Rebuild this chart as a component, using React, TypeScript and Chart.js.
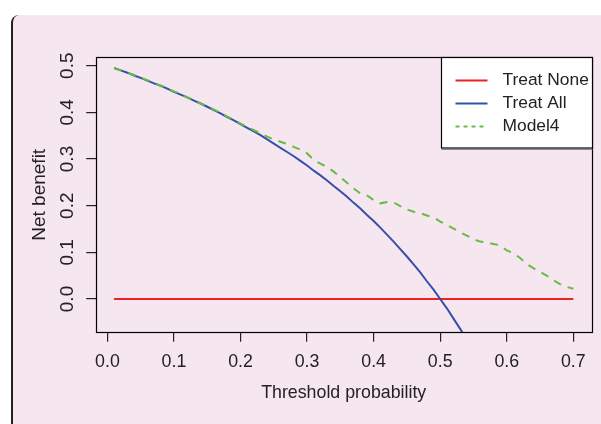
import { useEffect, useRef } from 'react';
import { Chart, registerables } from 'chart.js';

Chart.register(...registerables);

const thresholds = [
  0.01, 0.02, 0.03, 0.04, 0.05, 0.06, 0.07, 0.08, 0.09, 0.10,
  0.11, 0.12, 0.13, 0.14, 0.15, 0.16, 0.17, 0.18, 0.19, 0.20,
  0.21, 0.22, 0.23, 0.24, 0.25, 0.26, 0.27, 0.28, 0.29, 0.30,
  0.31, 0.32, 0.33, 0.34, 0.35, 0.36, 0.37, 0.38, 0.39, 0.40,
  0.41, 0.42, 0.43, 0.44, 0.45, 0.46, 0.47, 0.48, 0.49, 0.50,
  0.51, 0.52, 0.53, 0.54, 0.55, 0.56, 0.57, 0.58, 0.59, 0.60,
  0.61, 0.62, 0.63, 0.64, 0.65, 0.66, 0.67, 0.68, 0.69, 0.70,
];

const treatNone = [
  0, 0, 0, 0, 0, 0, 0, 0, 0, 0,
  0, 0, 0, 0, 0, 0, 0, 0, 0, 0,
  0, 0, 0, 0, 0, 0, 0, 0, 0, 0,
  0, 0, 0, 0, 0, 0, 0, 0, 0, 0,
  0, 0, 0, 0, 0, 0, 0, 0, 0, 0,
  0, 0, 0, 0, 0, 0, 0, 0, 0, 0,
  0, 0, 0, 0, 0, 0, 0, 0, 0, 0,
];

const treatAll = [
  0.495, 0.490, 0.485, 0.479, 0.474, 0.468, 0.462, 0.457, 0.451, 0.444,
  0.438, 0.432, 0.425, 0.419, 0.412, 0.405, 0.398, 0.390, 0.383, 0.375,
  0.367, 0.359, 0.351, 0.342, 0.333, 0.324, 0.315, 0.306, 0.296, 0.286,
  0.275, 0.265, 0.254, 0.242, 0.231, 0.219, 0.206, 0.194, 0.180, 0.167,
  0.153, 0.138, 0.123, 0.107, 0.091, 0.074, 0.057, 0.038, 0.020, 0.000,
  -0.020, -0.042, -0.064, -0.087,
];

const model4 = [
  0.495, 0.490, 0.485, 0.480, 0.474, 0.469, 0.463, 0.457, 0.451, 0.445,
  0.439, 0.432, 0.426, 0.419, 0.413, 0.406, 0.399, 0.391, 0.384, 0.376,
  0.369, 0.362, 0.355, 0.348, 0.342, 0.337, 0.332, 0.326, 0.320, 0.312,
  0.298, 0.290, 0.283, 0.273, 0.261, 0.249, 0.237, 0.226, 0.222, 0.212,
  0.205, 0.208, 0.207, 0.199, 0.192, 0.187, 0.184, 0.179, 0.175, 0.166,
  0.159, 0.151, 0.143, 0.136, 0.128, 0.123, 0.121, 0.118, 0.115, 0.104,
  0.098, 0.088, 0.075, 0.066, 0.058, 0.050, 0.040, 0.032, 0.026, 0.022,
];

const xTicks = [0, 0.1, 0.2, 0.3, 0.4, 0.5, 0.6, 0.7];
const xTickLabels = ['0.0', '0.1', '0.2', '0.3', '0.4', '0.5', '0.6', '0.7'];
const yTicks = [0, 0.1, 0.2, 0.3, 0.4, 0.5];
const yTickLabels = ['0.0', '0.1', '0.2', '0.3', '0.4', '0.5'];

const seriesNames = ['Treat None', 'Treat All', 'Model4'];
const seriesColors = ['#ee2222', '#3550a8', '#66bb44'];

const FONT = '"Liberation Sans", Arial, sans-serif';
const TEXT = '#222222';
const FSX = 17.8;
const FSY = 19;

const toPoints = (ys: number[]) => ys.map((y, i) => ({ x: thresholds[i], y }));

const frameAndLegend = {
  id: 'frameAndLegend',
  afterDraw(chart: any) {
    const { ctx, chartArea } = chart;
    const { left, top, right, bottom } = chartArea;
    ctx.save();
    // plot box
    ctx.strokeStyle = '#000';
    ctx.lineWidth = 1.2;
    ctx.strokeRect(Math.round(left) + 0.5, Math.round(top) + 0.5, Math.round(right - left), Math.round(bottom - top));

    // legend
    const w = 151;
    const h = 90.5;
    const lx = Math.round(right - w) + 0.5;
    const ly = Math.round(top) + 0.5;
    ctx.fillStyle = '#ffffff';
    ctx.fillRect(lx, ly, w, h);
    ctx.strokeStyle = '#000';
    ctx.lineWidth = 1.2;
    ctx.strokeRect(lx, ly, w, h);
    ctx.strokeStyle = '#8a8a8a';
    ctx.lineWidth = 1;
    ctx.beginPath();
    ctx.moveTo(lx, ly + h + 1.5);
    ctx.lineTo(lx + w, ly + h + 1.5);
    ctx.stroke();

    ctx.font = `17.4px ${FONT}`;
    ctx.textBaseline = 'middle';
    ctx.textAlign = 'left';
    seriesNames.forEach((name, i) => {
      const yy = ly + 23 + i * 23;
      ctx.strokeStyle = seriesColors[i];
      ctx.lineWidth = 2;
      ctx.setLineDash(i === 2 ? [4, 4] : []);
      ctx.beginPath();
      ctx.moveTo(lx + 14, yy);
      ctx.lineTo(lx + 46, yy);
      ctx.stroke();
      ctx.setLineDash([]);
      ctx.fillStyle = TEXT;
      ctx.fillText(name, lx + 61, yy);
    });
    ctx.restore();
  },
};

export default function App() {
  const ref = useRef<HTMLCanvasElement | null>(null);

  useEffect(() => {
    if (!ref.current) return;
    const chart = new Chart(ref.current, {
      type: 'line',
      data: {
        datasets: [
          {
            label: seriesNames[0],
            data: toPoints(treatNone),
            borderColor: seriesColors[0],
            borderWidth: 2,
            pointRadius: 0,
            tension: 0,
            order: 3,
          },
          {
            label: seriesNames[1],
            data: toPoints(treatAll),
            borderColor: seriesColors[1],
            borderWidth: 2,
            pointRadius: 0,
            tension: 0,
            order: 2,
          },
          {
            label: seriesNames[2],
            data: toPoints(model4),
            borderColor: seriesColors[2],
            borderWidth: 2,
            borderDash: [8, 7],
            pointRadius: 0,
            tension: 0,
            order: 1,
          },
        ],
      },
      options: {
        responsive: false,
        animation: false,
        events: [],
        layout: { padding: { left: 0, top: 57.3, right: 9.3, bottom: 0 } },
        plugins: {
          legend: { display: false },
          tooltip: { enabled: false },
          title: { display: false },
        },
        scales: {
          x: {
            type: 'linear',
            min: -0.0176,
            max: 0.7276,
            afterBuildTicks: (s: any) => {
              s.ticks = xTicks.map((v) => ({ value: v }));
            },
            afterFit: (s: any) => {
              s.height = 91.7;
            },
            ticks: {
              autoSkip: false,
              maxRotation: 0,
              padding: 11.0,
              color: TEXT,
              font: { size: FSX, family: FONT, lineHeight: 1 },
              callback: (_v: any, i: number) => xTickLabels[i],
            },
            grid: {
              drawOnChartArea: false,
              drawTicks: true,
              tickLength: 9.5,
              color: '#222',
              lineWidth: 1.2,
            },
            border: { display: false },
            title: {
              display: true,
              text: 'Threshold probability',
              color: TEXT,
              font: { size: FSX, family: FONT, lineHeight: 1 },
              padding: { top: 0, bottom: 21.8 },
            },
          },
          y: {
            type: 'linear',
            min: -0.0714,
            max: 0.518,
            afterBuildTicks: (s: any) => {
              s.ticks = yTicks.map((v) => ({ value: v }));
            },
            afterFit: (s: any) => {
              s.width = 95.7;
            },
            ticks: {
              autoSkip: false,
              minRotation: 90,
              maxRotation: 90,
              crossAlign: 'center',
              padding: 5.0,
              color: TEXT,
              font: { size: FSY, family: FONT, lineHeight: 1 },
              callback: (_v: any, i: number) => yTickLabels[i],
            },
            grid: {
              drawOnChartArea: false,
              drawTicks: true,
              tickLength: 9.5,
              color: '#222',
              lineWidth: 1.2,
            },
            border: { display: false },
            title: {
              display: true,
              text: 'Net benefit',
              color: TEXT,
              font: { size: FSY, family: FONT, lineHeight: 1 },
              padding: { top: 30.5, bottom: 0 },
            },
          },
        },
      },
      plugins: [frameAndLegend],
    } as any);
    return () => chart.destroy();
  }, []);

  return (
    <div
      style={{
        position: 'absolute',
        left: 0,
        top: 0,
        width: 601,
        height: 424,
        background: '#ffffff',
        overflow: 'hidden',
      }}
    >
      <div
        style={{
          position: 'absolute',
          left: 11,
          top: 15,
          width: 620,
          height: 440,
          background: '#f6e6f0',
          borderLeft: '2px solid #222',
          borderTopLeftRadius: 8,
        }}
      />
      <canvas
        ref={ref}
        width={601}
        height={424}
        style={{ position: 'absolute', left: 0, top: 0, width: 601, height: 424 }}
      />
    </div>
  );
}
